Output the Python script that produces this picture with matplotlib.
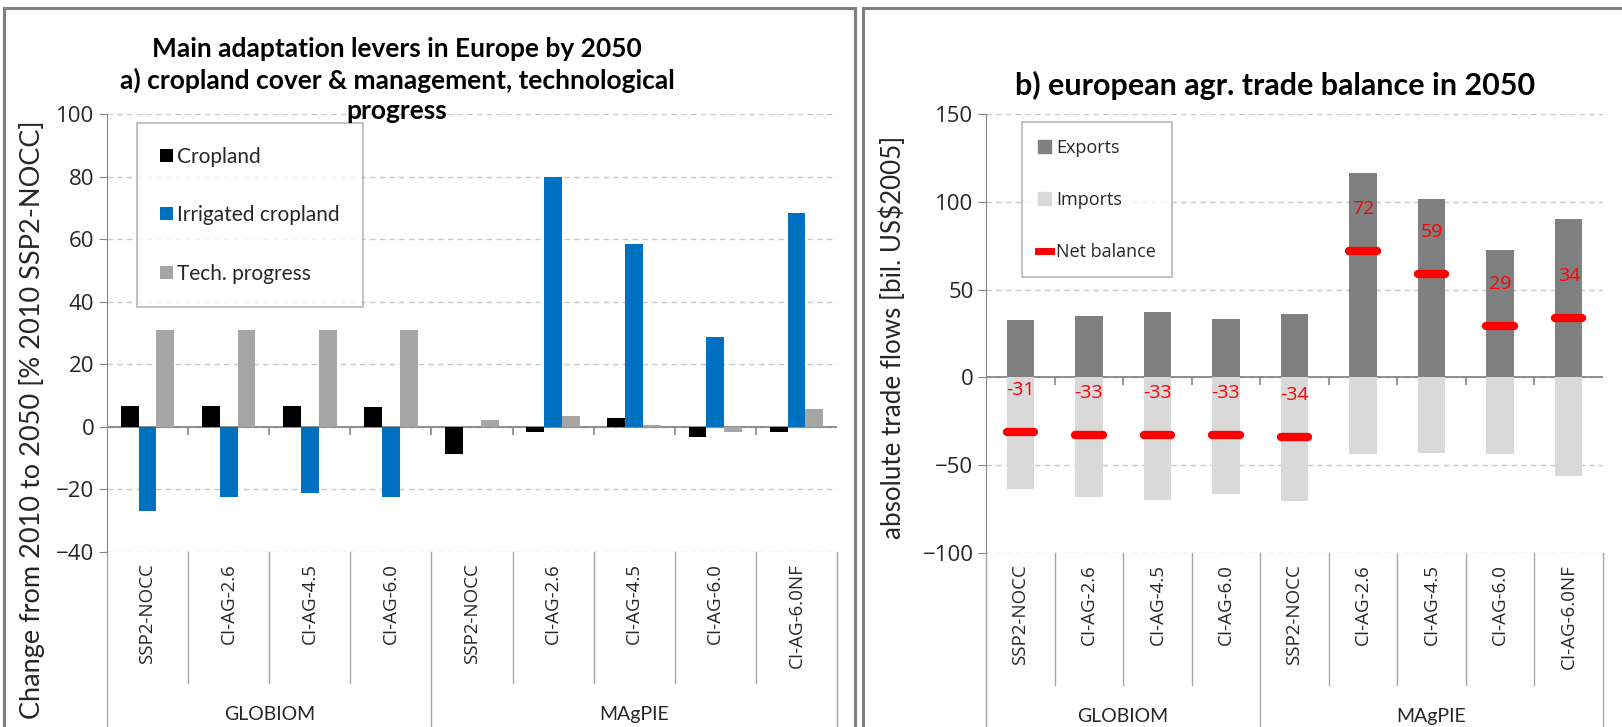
import numpy as np
import matplotlib
matplotlib.use('Agg')
import matplotlib.pyplot as plt
import matplotlib.transforms as mtransforms
from matplotlib.patches import Patch, Rectangle
from matplotlib.lines import Line2D

# categories
scenarios = ['SSP2-NOCC', 'CI-AG-2.6', 'CI-AG-4.5', 'CI-AG-6.0',
             'SSP2-NOCC', 'CI-AG-2.6', 'CI-AG-4.5', 'CI-AG-6.0', 'CI-AG-6.0NF']
models = ['GLOBIOM', 'MAgPIE']
model_sizes = [4, 5]

# panel a) change 2010-2050 [%]
cropland = [6.8, 6.8, 6.8, 6.2, -8.8, -1.8, 2.7, -3.4, -1.8]
irrigated = [-26.8, -22.4, -21.3, -22.4, 0.0, 79.9, 58.3, 28.8, 68.3]
tech_progress = [31.1, 31.1, 31.1, 31.1, 2.1, 3.6, 0.7, -1.8, 5.7]

# panel b) trade flows [bil. US$2005]
exports = [32.5, 35.2, 37.1, 33.3, 36.1, 116.2, 101.8, 72.8, 90.3]
imports = [-63.6, -68.2, -69.8, -66.5, -70.3, -43.7, -42.8, -43.7, -56.0]
net_balance = [-31, -33, -33, -33, -34, 72, 59, 29, 34]

plt.rcParams['font.family'] = 'Open Sans'
GRAY = '#868686'
TXT = '#262626'

fig = plt.figure(figsize=(16.22, 7.27), dpi=100)
W, H = 1622, 727


def axes_px(x0, x1, ytop, ybot):
    return fig.add_axes([x0 / W, 1 - ybot / H, (x1 - x0) / W, (ybot - ytop) / H])


def style_axis(ax, ticks):
    ax.set_yticks(ticks)
    ax.yaxis.grid(True, linestyle=(0, (4, 3)), color='#C8C8C8', linewidth=1)
    ax.set_axisbelow(True)
    for s in ['top', 'right', 'bottom']:
        ax.spines[s].set_visible(False)
    ax.spines['left'].set_color(GRAY)
    ax.tick_params(axis='y', direction='out', length=6, color=GRAY,
                   labelsize=16, labelcolor=TXT, pad=3)
    ax.axhline(0, color=GRAY, linewidth=1.3, zorder=1)
    bounds = np.arange(0.5, len(scenarios) - 1)
    ax.plot(bounds, np.zeros(len(bounds)), linestyle='none', marker=3,
            markersize=6, color=GRAY, markeredgewidth=1.2, clip_on=False)
    # multi-level category axis
    ax.set_xlim(-0.5, len(scenarios) - 0.5)
    ax.set_xticks([])
    trans = mtransforms.blended_transform_factory(ax.transData, ax.transAxes)
    edges = np.cumsum([0] + model_sizes) - 0.5
    for i, s in enumerate(scenarios):
        ax.text(i, -0.025, s, transform=trans, rotation=90, ha='center',
                va='top', fontsize=13.5, color=TXT)
    for b in bounds:
        if b not in edges:
            ax.plot([b, b], [0, -0.30], transform=trans, color='#A6A6A6',
                    linewidth=1, clip_on=False)
    for e in edges:
        ax.plot([e, e], [0, -0.45], transform=trans, color='#A6A6A6',
                linewidth=1, clip_on=False)
    for k, m in enumerate(models):
        ax.text((edges[k] + edges[k + 1]) / 2, -0.372, m, transform=trans,
                ha='center', va='center', fontsize=14, family='Lato', color=TXT)


# ---------------- panel a ----------------
ax1 = axes_px(107, 837, 114, 552)
x = np.arange(len(scenarios))
bw = 0.22
ax1.bar(x - bw, cropland, bw, color='black', label='Cropland', zorder=2)
ax1.bar(x, irrigated, bw, color='#0070C0', label='Irrigated cropland', zorder=2)
ax1.bar(x + bw, tech_progress, bw, color='#A6A6A6', label='Tech. progress', zorder=2)
ax1.set_ylim(-40, 100)
style_axis(ax1, np.arange(-40, 101, 20))
leg1 = ax1.legend(loc='upper left', bbox_to_anchor=(0.041, 0.979),
                  prop={'family': 'Lato', 'size': 15},
                  frameon=True, fancybox=False, edgecolor='#A6A6A6',
                  handlelength=0.6, handleheight=0.6, handletextpad=0.2,
                  labelspacing=1.85, borderpad=1.12, borderaxespad=0)
leg1.get_frame().set_linewidth(1.2)
for t in leg1.get_texts():
    t.set_color(TXT)

fig.text(397 / W, 1 - 80 / H,
         'Main adaptation levers in Europe by 2050\n'
         'a) cropland cover & management, technological\nprogress',
         ha='center', va='center', fontsize=19, fontweight='bold',
         family='Lato', linespacing=1.32, color='black')
fig.text(32 / W, 1 - 420 / H, 'Change from 2010 to 2050 [% 2010 SSP2-NOCC]',
         rotation=90, ha='center', va='center', fontsize=19.5, family='Lato',
         color=TXT)

# ---------------- panel b ----------------
ax2 = axes_px(986, 1603, 114, 553)
bw2 = 0.4
ax2.bar(x, exports, bw2, color='#808080', zorder=2)
ax2.bar(x, imports, bw2, color='#D9D9D9', zorder=2)
for i, v in enumerate(net_balance):
    ax2.plot([i - 0.2, i + 0.2], [v, v], color='#FF0000', linewidth=6,
             solid_capstyle='round', zorder=3)
    ax2.text(i, v + 24, f'{v}', color='#FF0000', ha='center', va='center',
             fontsize=14, zorder=4)
ax2.set_ylim(-100, 150)
style_axis(ax2, np.arange(-100, 151, 50))
handles = [Patch(color='#808080'), Patch(color='#D9D9D9'),
           Line2D([], [], color='#FF0000', linewidth=5)]
leg2 = ax2.legend(handles, ['Exports', 'Imports', 'Net balance'],
                  loc='upper left', bbox_to_anchor=(0.058, 0.981), fontsize=13,
                  frameon=True, fancybox=False, edgecolor='#A6A6A6',
                  handlelength=0.7, handleheight=0.7, handletextpad=0.3,
                  labelspacing=1.9, borderpad=0.9, borderaxespad=0)
leg2.get_frame().set_linewidth(1.2)
for t in leg2.get_texts():
    t.set_color(TXT)

fig.text(1275 / W, 1 - 85 / H, 'b) european agr. trade balance in 2050',
         ha='center', va='center', fontsize=22, fontweight='bold',
         family='Lato', color='black')
fig.text(893 / W, 1 - 337 / H, 'absolute trade flows [bil. US$2005]',
         rotation=90, ha='center', va='center', fontsize=18.7, family='Lato',
         color=TXT)

# panel frames
fig.add_artist(Rectangle((4 / W, -0.05), (855 - 4) / W, 1.05 - 8 / H,
                         transform=fig.transFigure, fill=False,
                         edgecolor='#7F7F7F', linewidth=2.2))
fig.add_artist(Rectangle((863 / W, -0.05), 0.6, 1.05 - 8 / H,
                         transform=fig.transFigure, fill=False,
                         edgecolor='#7F7F7F', linewidth=2.2))

fig.savefig('out.png', dpi=100)
